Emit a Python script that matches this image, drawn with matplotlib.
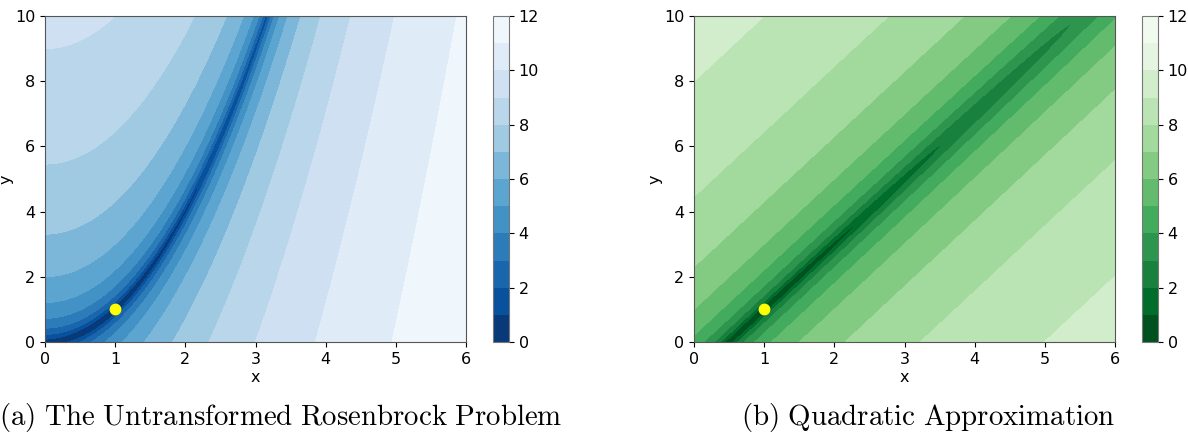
import matplotlib
matplotlib.use('Agg')
import matplotlib.pyplot as plt
import numpy as np

plt.rcParams['mathtext.fontset'] = 'cm'

# plot ranges and contour levels
x_range = [0, 6]
y_range = [0, 10]
levels = [0, 1, 2, 3, 4, 5, 6, 7, 8, 9, 10, 11, 12]
cbar_ticks = [0, 2, 4, 6, 8, 10, 12]
x_ticks = [0, 1, 2, 3, 4, 5, 6]
y_ticks = [0, 2, 4, 6, 8, 10]
optimum = [1, 1]

# Hessian of the Rosenbrock function at the optimum
hessian = [[802, -400], [-400, 200]]

captions = [r'$\mathrm{(a)\ The\ Untransformed\ Rosenbrock\ Problem}$',
            r'$\mathrm{(b)\ Quadratic\ Approximation}$']


def rosenbrock(x, y):
    return (1 - x) ** 2 + 100 * (y - x ** 2) ** 2


def quadratic(x, y):
    dx = x - optimum[0]
    dy = y - optimum[1]
    return 0.5 * (hessian[0][0] * dx ** 2 + 2 * hessian[0][1] * dx * dy + hessian[1][1] * dy ** 2)


xs = np.linspace(x_range[0], x_range[1], 600)
ys = np.linspace(y_range[0], y_range[1], 600)
X, Y = np.meshgrid(xs, ys)

W, H = 1188, 442
fig = plt.figure(figsize=(W / 100, H / 100), dpi=100)


def px_axes(x0, y0, x1, y1):
    return fig.add_axes([x0 / W, 1 - y1 / H, (x1 - x0) / W, (y1 - y0) / H])


panels = [
    (np.log1p(rosenbrock(X, Y)), 'Blues_r', (45, 16, 466, 342), (493, 16, 509, 342), 281),
    (np.log1p(quadratic(X, Y)), 'Greens_r', (694, 16, 1115, 342), (1142, 16, 1158, 342), 928),
]

for i, (Z, cmap, box, cbox, cap_x) in enumerate(panels):
    ax = px_axes(*box)
    cf = ax.contourf(X, Y, Z, levels=levels, cmap=cmap)
    ax.plot(optimum[0], optimum[1], 'o', color='yellow', markersize=7.5)
    ax.set_xlim(x_range)
    ax.set_ylim(y_range)
    ax.set_xticks(x_ticks)
    ax.set_yticks(y_ticks)
    ax.tick_params(labelsize=11.5)
    ax.set_xlabel('x', fontsize=11.5)
    ax.set_ylabel('y', fontsize=11.5)
    ax.xaxis.set_label_coords(0.5, -28 / 326)
    ax.yaxis.set_label_coords(-31 / 421, 0.5)
    for s in ax.spines.values():
        s.set_color('#555555')
    cax = px_axes(*cbox)
    cb = fig.colorbar(cf, cax=cax, ticks=cbar_ticks)
    cb.ax.tick_params(labelsize=11.5)
    cb.outline.set_edgecolor('#777777')
    fig.text(cap_x / W, 1 - 418 / H, captions[i], ha='center', va='center', fontsize=20.8)

plt.savefig('out.png')
